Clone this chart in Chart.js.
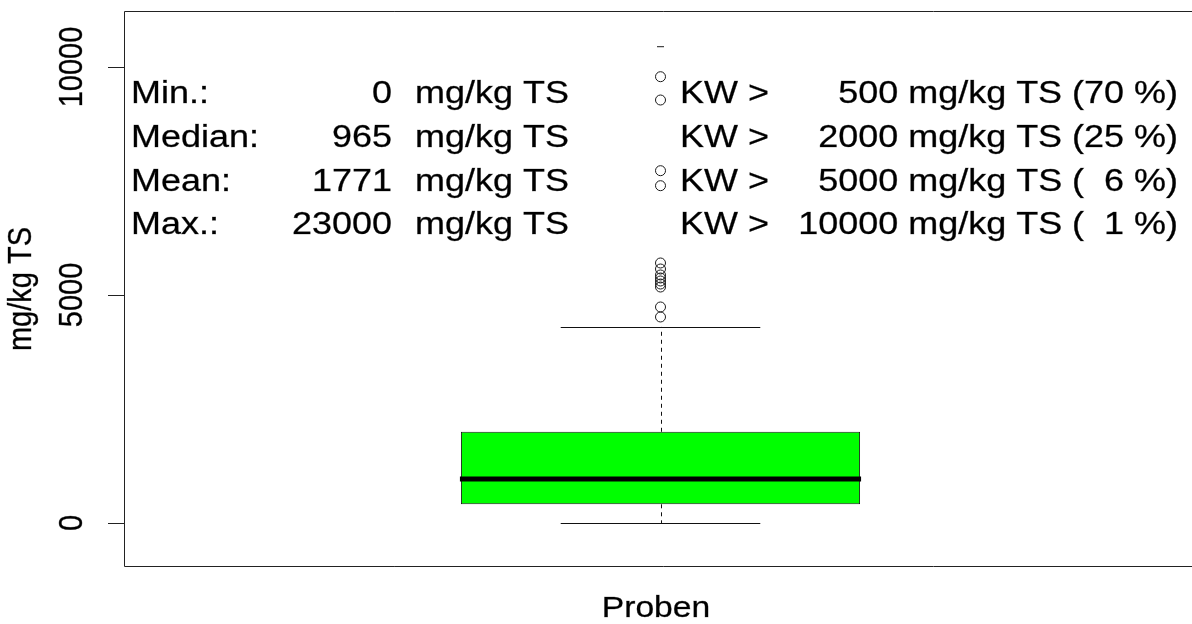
<!DOCTYPE html>
<html>
<head>
<meta charset="utf-8">
<script src="https://cdn.jsdelivr.net/npm/chart.js@4.4.1/dist/chart.umd.min.js"></script>
<style>
  html, body { margin: 0; padding: 0; background: #ffffff; overflow: hidden; }
  canvas { display: block; }
</style>
</head>
<body>
<canvas id="box" width="1203" height="624"></canvas>
<script>
// Boxplot of sample concentrations (mg/kg TS); the plot region runs slightly past the right edge
const category = ['Proben'];
const boxFive = [0, 410, 965, 2000, 4300];          // lower whisker, Q1, median, Q3, upper whisker
const outliers = [4518, 4737, 5175, 5241, 5307, 5373, 5439, 5570, 5702, 7397, 7726, 9276, 9787];
const edgeMark = [10445];
const yTicks = [0, 5000, 10000];
const yRange = [-965, 11228];

const statLabels = ['Min.:', 'Median:', 'Mean:', 'Max.:'];
const statValues = [0, 965, 1771, 23000];
const kwLimits = [500, 2000, 5000, 10000];
const kwShares = [70, 25, 6, 1];
const unit = 'mg/kg TS';
const xTitle = 'Proben';
const yTitle = 'mg/kg TS';

const FONT = '"Liberation Sans", Arial, Helvetica, sans-serif';
const SX = 1.16;          // horizontal text stretch
const INK = '#111111';

function txt(ctx, s, x, y, size, align, rotated) {
  ctx.save();
  ctx.translate(x, y);
  ctx.scale(SX, 1);
  if (rotated) ctx.rotate(-Math.PI / 2);
  ctx.font = size + 'px ' + FONT;
  ctx.textAlign = align;
  ctx.textBaseline = 'alphabetic';
  ctx.fillStyle = '#000000';
  ctx.strokeStyle = 'rgba(0,0,0,0.55)';
  ctx.lineWidth = 0.5;
  ctx.fillText(s, 0, 0);
  ctx.strokeText(s, 0, 0);
  ctx.restore();
}

const boxDecor = {
  id: 'boxDecor',
  beforeDatasetsDraw(chart) {
    const { ctx, scales: { y } } = chart;
    const bar = chart.getDatasetMeta(0).data[0];
    const cx = Math.round(bar.x) + 0.5;
    const capHalf = bar.width / 4;
    ctx.save();
    ctx.strokeStyle = INK;
    ctx.lineWidth = 1;
    // dashed whiskers
    ctx.setLineDash([4, 4]);
    ctx.beginPath();
    ctx.moveTo(cx, y.getPixelForValue(boxFive[3]));
    ctx.lineTo(cx, y.getPixelForValue(boxFive[4]));
    ctx.moveTo(cx, y.getPixelForValue(boxFive[1]));
    ctx.lineTo(cx, y.getPixelForValue(boxFive[0]));
    ctx.stroke();
    // whisker caps
    ctx.setLineDash([]);
    ctx.beginPath();
    [boxFive[0], boxFive[4]].forEach(v => {
      const py = Math.round(y.getPixelForValue(v)) + 0.5;
      ctx.moveTo(bar.x - capHalf, py);
      ctx.lineTo(bar.x + capHalf, py);
    });
    ctx.stroke();
    ctx.restore();
  },
  afterDatasetsDraw(chart) {
    const { ctx, scales: { y } } = chart;
    const bar = chart.getDatasetMeta(0).data[0];
    ctx.save();
    ctx.strokeStyle = '#000000';
    ctx.lineWidth = 5;
    const py = y.getPixelForValue(boxFive[2]);
    ctx.beginPath();
    ctx.moveTo(bar.x - bar.width / 2 - 1, py);
    ctx.lineTo(bar.x + bar.width / 2 + 1, py);
    ctx.stroke();
    ctx.restore();
  },
  afterDraw(chart) {
    const { ctx, chartArea: a, scales: { y } } = chart;
    ctx.save();
    // frame
    ctx.strokeStyle = '#222222';
    ctx.lineWidth = 1;
    ctx.beginPath();
    ctx.moveTo(chart.width, a.top + 0.5);
    ctx.lineTo(a.left + 0.5, a.top + 0.5);
    ctx.lineTo(a.left + 0.5, a.bottom - 0.5);
    ctx.lineTo(chart.width, a.bottom - 0.5);
    ctx.stroke();
    // y axis ticks and labels
    ctx.beginPath();
    yTicks.forEach(t => {
      const py = Math.round(y.getPixelForValue(t)) + 0.5;
      ctx.moveTo(a.left - 16, py);
      ctx.lineTo(a.left, py);
    });
    ctx.stroke();
    yTicks.forEach(t => txt(ctx, String(t), 82, y.getPixelForValue(t), 29, 'center', true));
    // axis titles
    txt(ctx, yTitle, 31, (a.top + a.bottom) / 2, 29, 'center', true);
    txt(ctx, xTitle, 656, 617, 29, 'center', false);
    // summary block
    const rows = [103, 147, 191, 234];
    statLabels.forEach((lab, i) => {
      const by = rows[i];
      txt(ctx, lab, 131, by, 31, 'left');
      txt(ctx, String(statValues[i]), 392, by, 31, 'right');
      txt(ctx, unit, 415, by, 31, 'left');
      txt(ctx, 'KW >', 680, by, 31, 'left');
      const sh = kwShares[i] < 10 ? '  ' + kwShares[i] : String(kwShares[i]);
      txt(ctx, kwLimits[i] + ' ' + unit + ' (' + sh + ' %)', 1178, by, 31, 'right');
    });
    ctx.restore();
  }
};

new Chart(document.getElementById('box').getContext('2d'), {
  type: 'bar',
  data: {
    labels: category,
    datasets: [
      {
        type: 'bar',
        data: [[boxFive[1], boxFive[3]]],
        backgroundColor: '#00ff00',
        borderColor: '#1a1a1a',
        borderWidth: 1,
        borderSkipped: false,
        barPercentage: 0.372,
        categoryPercentage: 1,
        order: 3
      },
      {
        type: 'line',
        data: outliers.map(v => ({ x: category[0], y: v })),
        showLine: false,
        pointRadius: 5,
        pointHoverRadius: 5,
        pointBorderWidth: 1,
        pointBorderColor: '#1a1a1a',
        pointBackgroundColor: 'rgba(0,0,0,0)',
        order: 1
      },
      {
        type: 'line',
        data: edgeMark.map(v => ({ x: category[0], y: v })),
        showLine: false,
        pointStyle: 'line',
        pointRadius: 3.5,
        pointHoverRadius: 3.5,
        pointBorderWidth: 1,
        pointBorderColor: '#1a1a1a',
        order: 1
      }
    ]
  },
  options: {
    responsive: false,
    devicePixelRatio: 1,
    animation: false,
    events: [],
    layout: { padding: { left: 124, top: 11, right: 0, bottom: 57 } },
    scales: {
      x: { type: 'category', display: false, offset: true },
      y: { type: 'linear', display: false, min: yRange[0], max: yRange[1] }
    },
    plugins: { legend: { display: false }, tooltip: { enabled: false } }
  },
  plugins: [boxDecor]
});
</script>
</body>
</html>
